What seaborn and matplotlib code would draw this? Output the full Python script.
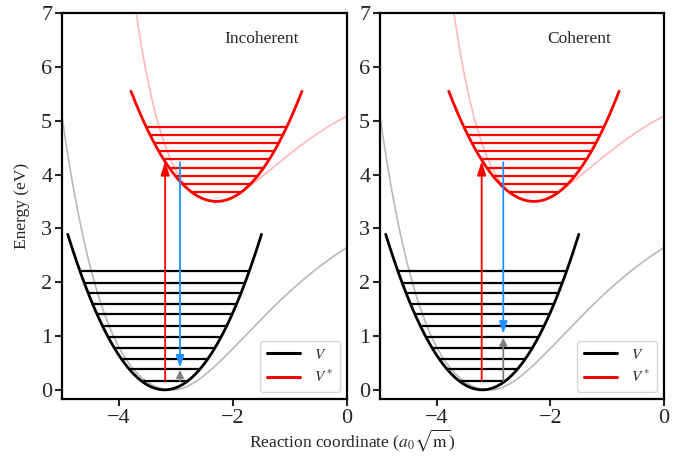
import numpy as np
import pandas as pd
import matplotlib
matplotlib.use("Agg")
import matplotlib.pyplot as plt
import seaborn as sns

# ---------------- data ----------------
# harmonic ground-state well V: [centre, curvature, minimum, half-width]
ground_well = [-3.2, 1.0, 0.0, 1.7]
ground_levels = [0.17, 0.38, 0.58, 0.78, 0.99, 1.19, 1.40, 1.60, 1.80, 1.99, 2.20]

# harmonic excited-state well V*: [centre, curvature, minimum, half-width]
excited_well = [-2.29, 0.91, 3.5, 1.5]
excited_levels = [3.67, 3.82, 3.97, 4.12, 4.28, 4.44, 4.59, 4.73, 4.88]

# faint anharmonic curves: [centre, depth, left range, right range, offset]
ground_morse = [-3.05, 4.0, 0.387, 0.55, 0.0]
excited_morse = [-2.30, 2.48, 0.56, 0.70, 3.5]

panel_titles = ["Incoherent", "Coherent"]
absorb_x = [-3.19, -3.21]
absorb_from = [0.17, 0.17]
absorb_to = [4.25, 4.25]
emit_x = [-2.93, -2.83]
emit_from = [4.23, 4.23]
emit_to = [0.41, 1.04]
relax_from = [0.17, 0.17]
relax_to = [0.37, 0.97]

x_range = [-5.0, 0.0]
y_range = [-0.17, 7.0]
# -------------------------------------------------------------

sns.set_style("ticks")
plt.rcParams["font.family"] = ["Liberation Serif", "DejaVu Serif"]
plt.rcParams["mathtext.fontset"] = "stix"

fig = plt.figure(figsize=(6.89, 4.66), dpi=100)
ax1 = fig.add_axes([62 / 689, 1 - 399 / 466, 285 / 689, 386 / 466])
ax2 = fig.add_axes([380 / 689, 1 - 399 / 466, 284 / 689, 386 / 466])


def harmonic_frame(p):
    c, k, vmin, hw = p
    x = np.linspace(c - hw, c + hw, 300)
    return pd.DataFrame({"x": x, "y": vmin + k * (x - c) ** 2})


def morse_frame(p):
    c, d, a_left, a_right, v0 = p
    x = np.linspace(x_range[0], x_range[1], 600)
    a = np.where(x < c, a_left, a_right)
    return pd.DataFrame({"x": x, "y": v0 + d * (1 - np.exp(-a * (x - c))) ** 2})


def level_extent(p, e):
    c, k, vmin, hw = p
    w = np.sqrt((e - vmin) / k)
    return c - w, c + w


for i, ax in enumerate([ax1, ax2]):
    sns.lineplot(data=morse_frame(ground_morse), x="x", y="y", ax=ax,
                 color="black", alpha=0.28, lw=1.2, zorder=1)
    sns.lineplot(data=morse_frame(excited_morse), x="x", y="y", ax=ax,
                 color="red", alpha=0.28, lw=1.2, zorder=1)
    sns.lineplot(data=harmonic_frame(ground_well), x="x", y="y", ax=ax,
                 color="black", lw=2.0, zorder=3, label="$V$")
    sns.lineplot(data=harmonic_frame(excited_well), x="x", y="y", ax=ax,
                 color="red", lw=2.0, zorder=3, label="$V^*$")
    for e in ground_levels:
        a, b = level_extent(ground_well, e)
        ax.hlines(e, a, b, color="black", lw=1.6, zorder=2)
    for e in excited_levels:
        a, b = level_extent(excited_well, e)
        ax.hlines(e, a, b, color="red", lw=1.6, zorder=2)

    ax.annotate("", xy=(absorb_x[i], absorb_to[i]), xytext=(absorb_x[i], absorb_from[i]),
                arrowprops=dict(arrowstyle="-|>,head_length=0.7,head_width=0.22",
                                color="red", lw=1.3, mutation_scale=12,
                                shrinkA=0, shrinkB=0), zorder=4)
    ax.annotate("", xy=(emit_x[i], emit_to[i]), xytext=(emit_x[i], emit_from[i]),
                arrowprops=dict(arrowstyle="-|>,head_length=0.6,head_width=0.2",
                                color="dodgerblue", lw=1.3, mutation_scale=12,
                                shrinkA=0, shrinkB=0), zorder=4)
    ax.annotate("", xy=(emit_x[i], relax_to[i]), xytext=(emit_x[i], relax_from[i]),
                arrowprops=dict(arrowstyle="-|>,head_length=0.45,head_width=0.22",
                                color="gray", lw=1.3, mutation_scale=10,
                                shrinkA=0, shrinkB=0), zorder=4)

    ax.text(-1.5, 6.52, panel_titles[i], fontsize=12.5, ha="center", va="center")

    ax.set_xlim(*x_range)
    ax.set_ylim(*y_range)
    ax.set_xticks([-4, -2, 0])
    ax.set_yticks(range(0, 8))
    ax.set_xlabel("")
    ax.set_ylabel("")
    for s in ax.spines.values():
        s.set_linewidth(1.6)
        s.set_color("black")
    ax.tick_params(direction="out", length=5, width=1.5, labelsize=16, pad=2)
    leg = ax.legend(loc="lower right", fontsize=11, handlelength=2.2,
                    borderpad=0.45, labelspacing=0.45, handletextpad=0.9,
                    borderaxespad=0.45)
    for line in leg.get_lines():
        line.set_linewidth(2.2)

ax1.set_ylabel("Energy (eV)", fontsize=12.5, labelpad=8)
fig.text(352 / 689, 1 - 440 / 466, r"Reaction coordinate ($a_0\sqrt{\mathrm{m}}$)",
         fontsize=12.5, ha="center", va="center")

fig.savefig("out.png", dpi=100)
